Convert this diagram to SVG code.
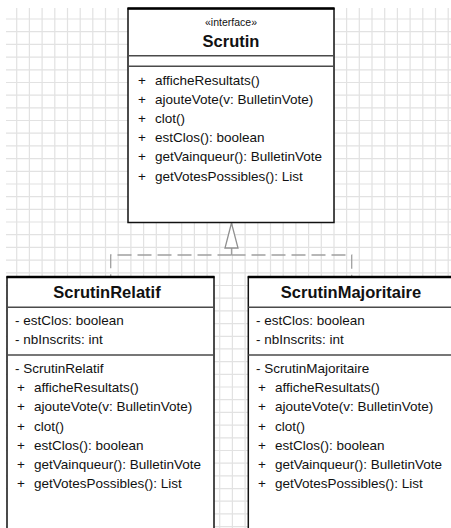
<svg xmlns="http://www.w3.org/2000/svg" width="451" height="528" viewBox="0 0 451 528">
  <defs>
    <style>
      .grid { stroke: #e2e2e2; stroke-width: 1.2; fill: none; }
      .box { fill: #ffffff; stroke: #111111; stroke-width: 1.5; }
      .top { stroke: #000000; stroke-width: 2.5; }
      .sep { stroke: #4a4a4a; stroke-width: 1.5; }
      .txt { font-family: "Liberation Sans", Arial, sans-serif; font-size: 13.5px; fill: #111111; }
      .title { font-family: "Liberation Sans", Arial, sans-serif; font-size: 16.5px; font-weight: bold; fill: #111111; text-anchor: middle; }
      .stereo { font-family: "Liberation Sans", Arial, sans-serif; font-size: 10.5px; fill: #111111; text-anchor: middle; }
      .dash { stroke: #a0a0a0; stroke-width: 1.3; fill: none; stroke-dasharray: 14 6; }
      .head { stroke: #909090; stroke-width: 1.3; fill: #ffffff; }
    </style>
  </defs>

  <rect width="451" height="528" fill="#ffffff"/>

  <!-- background grid -->
  <path class="grid" d="
    M16.7 8V528 M29.4 8V528 M42.1 8V528 M54.8 8V528 M67.5 8V528 M80.2 8V528 M92.8 8V528
    M105.5 8V528 M118.2 8V528 M130.9 8V528 M143.6 8V528 M156.3 8V528 M169 8V528 M181.7 8V528
    M194.4 8V528 M207.1 8V528 M219.7 8V528 M232.4 8V528 M245.1 8V528 M257.8 8V528 M270.5 8V528
    M283.2 8V528 M295.9 8V528 M308.6 8V528 M321.3 8V528 M334 8V528 M346.6 8V528 M359.3 8V528
    M372 8V528 M384.7 8V528 M397.4 8V528 M410.1 8V528 M422.8 8V528 M435.5 8V528 M448.2 8V528
    M6 19H451 M6 31.7H451 M6 44.4H451 M6 57.1H451 M6 69.8H451 M6 82.5H451 M6 95.1H451
    M6 107.8H451 M6 120.5H451 M6 133.2H451 M6 145.9H451 M6 158.6H451 M6 171.3H451 M6 184H451
    M6 196.7H451 M6 209.4H451 M6 222H451 M6 234.7H451 M6 247.4H451 M6 260.1H451 M6 272.8H451
    M6 285.5H451 M6 298.2H451 M6 310.9H451 M6 323.6H451 M6 336.3H451 M6 348.9H451 M6 361.6H451
    M6 374.3H451 M6 387H451 M6 399.7H451 M6 412.4H451 M6 425.1H451 M6 437.8H451 M6 450.5H451
    M6 463.2H451 M6 475.9H451 M6 488.6H451 M6 501.2H451 M6 513.9H451 M6 526.6H451"/>

  <!-- realization connectors -->
  <g id="connectors">
    <path class="dash" d="M231.5 255H110.7V277"/>
    <path class="dash" d="M231.5 255H351.7V277"/>
    <line x1="231.5" y1="248" x2="231.5" y2="255" stroke="#a0a0a0" stroke-width="1.3"/>
    <polygon class="head" points="231.5,223 225,248 238,248"/>
  </g>

  <!-- interface Scrutin -->
  <g id="scrutin">
    <rect class="box" x="128" y="8.5" width="206" height="214"/>
    <line class="top" x1="127.5" y1="8.5" x2="334.5" y2="8.5"/>
    <line class="sep" x1="128" y1="55.7" x2="334" y2="55.7"/>
    <line class="sep" x1="128" y1="66.3" x2="334" y2="66.3"/>
    <text class="stereo" x="231" y="26">«interface»</text>
    <text class="title" x="231" y="47">Scrutin</text>
    <g class="txt">
      <text x="138" y="84.5">+</text><text x="155" y="84.5">afficheResultats()</text>
      <text x="138" y="103.7">+</text><text x="155" y="103.7">ajouteVote(v: BulletinVote)</text>
      <text x="138" y="122.9">+</text><text x="155" y="122.9">clot()</text>
      <text x="138" y="142.1">+</text><text x="155" y="142.1">estClos(): boolean</text>
      <text x="138" y="161.3">+</text><text x="155" y="161.3">getVainqueur(): BulletinVote</text>
      <text x="138" y="180.5">+</text><text x="155" y="180.5">getVotesPossibles(): List</text>
    </g>
  </g>

  <!-- class ScrutinRelatif -->
  <g id="scrutinRelatif">
    <rect class="box" x="7" y="277" width="207" height="270"/>
    <line class="top" x1="6.5" y1="277" x2="214.5" y2="277"/>
    <line class="sep" x1="7" y1="307.3" x2="214" y2="307.3"/>
    <line class="sep" x1="7" y1="355" x2="214" y2="355"/>
    <text class="title" x="107" y="298">ScrutinRelatif</text>
    <g class="txt">
      <text x="15" y="324.5">- estClos: boolean</text>
      <text x="15" y="343.7">- nbInscrits: int</text>
      <text x="15" y="373">- ScrutinRelatif</text>
      <text x="17" y="392.2">+</text><text x="34" y="392.2">afficheResultats()</text>
      <text x="17" y="411.4">+</text><text x="34" y="411.4">ajouteVote(v: BulletinVote)</text>
      <text x="17" y="430.6">+</text><text x="34" y="430.6">clot()</text>
      <text x="17" y="449.8">+</text><text x="34" y="449.8">estClos(): boolean</text>
      <text x="17" y="469">+</text><text x="34" y="469">getVainqueur(): BulletinVote</text>
      <text x="17" y="488.2">+</text><text x="34" y="488.2">getVotesPossibles(): List</text>
    </g>
  </g>

  <!-- class ScrutinMajoritaire -->
  <g id="scrutinMajoritaire">
    <rect class="box" x="248.3" y="277" width="220" height="270"/>
    <line class="top" x1="247.8" y1="277" x2="451" y2="277"/>
    <line class="sep" x1="248.3" y1="307.3" x2="451" y2="307.3"/>
    <line class="sep" x1="248.3" y1="355" x2="451" y2="355"/>
    <text class="title" x="351" y="298">ScrutinMajoritaire</text>
    <g class="txt">
      <text x="256" y="324.5">- estClos: boolean</text>
      <text x="256" y="343.7">- nbInscrits: int</text>
      <text x="256" y="373">- ScrutinMajoritaire</text>
      <text x="258" y="392.2">+</text><text x="275" y="392.2">afficheResultats()</text>
      <text x="258" y="411.4">+</text><text x="275" y="411.4">ajouteVote(v: BulletinVote)</text>
      <text x="258" y="430.6">+</text><text x="275" y="430.6">clot()</text>
      <text x="258" y="449.8">+</text><text x="275" y="449.8">estClos(): boolean</text>
      <text x="258" y="469">+</text><text x="275" y="469">getVainqueur(): BulletinVote</text>
      <text x="258" y="488.2">+</text><text x="275" y="488.2">getVotesPossibles(): List</text>
    </g>
  </g>
</svg>
